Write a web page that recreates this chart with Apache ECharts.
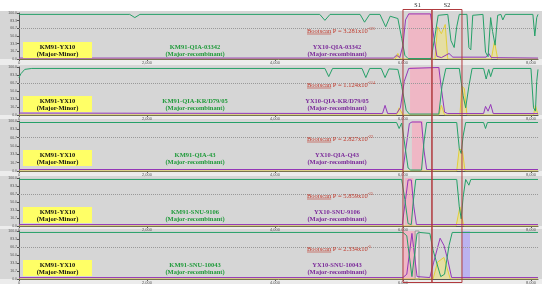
<!DOCTYPE html>
<html>
<head>
<meta charset="utf-8">
<script src="https://cdn.jsdelivr.net/npm/echarts@6/dist/echarts.min.js"></script>
<style>
html,body{margin:0;padding:0;background:#fff;}
#chart{width:542px;height:284px;}
</style>
</head>
<body>
<div id="chart"></div>
<script>
// 各面板文字
var majorMinor = 'KM91-YX10';
var majorRecomb = ['KM91-QIA-03342', 'KM91-QIA-KR/D79/05', 'KM91-QIA-43', 'KM91-SNU-9106', 'KM91-SNU-10043'];
var minorRecomb = ['YX10-QIA-03342', 'YX10-QIA-KR/D79/05', 'YX10-QIA-Q43', 'YX10-SNU-9106', 'YX10-SNU-10043'];
var pMantissa = ['3.281', '1.124', '2.827', '5.859', '2.334'];
var pExponent = ['-121', '-114', '-22', '-15', '-5'];

// 区域 (位点)
var s1Region = [6000, 6453];
var s2Region = [6453, 6922];
var pinkRegions = [[6080, 6450], [6110, 6580], [6140, 6310], [6030, 6160], [6000, 6230]];
var lavenderP5 = [6922, 7047];
var grayBoxP5 = [6190, 6250];

// bootscan 曲线 [位点, %]
var p1Green = [[0,97],[1730,97],[1810,90],[1890,97],[4700,97],[4780,84],[4860,97],[5330,97],[5400,80],[5480,97],[5640,97],[5730,70],[5800,93],[5920,88],[5980,45],[6030,8],[6080,1],[6440,1],[6500,50],[6550,95],[6700,97],[6750,40],[6800,25],[6840,70],[6880,97],[7000,97],[7030,25],[7060,20],[7090,95],[7250,97],[7290,15],[7330,5],[7370,90],[7400,60],[7440,30],[7480,95],[7530,97],[7560,85],[7600,97],[8030,97],[8060,50],[8090,90],[8110,97]];
var p1Purple = [[0,2],[5850,2],[5900,8],[5950,3],[6000,30],[6040,85],[6090,98],[6430,98],[6480,50],[6530,6],[6600,3],[6720,12],[6780,4],[7300,4],[7340,12],[7380,3],[8110,2]];
var p1Yellow = [[0,0],[5880,0],[5920,12],[5960,0],[6500,0],[6540,70],[6600,55],[6660,75],[6700,0],[7380,0],[7430,38],[7480,0],[8110,0]];

var p2Green = [[0,78],[30,86],[90,95],[200,97],[4780,97],[4840,80],[4900,97],[5360,97],[5420,78],[5480,97],[5660,97],[5720,78],[5780,96],[5920,95],[5980,60],[6050,10],[6100,2],[6560,2],[6610,60],[6670,97],[6880,97],[6940,40],[6980,15],[7030,60],[7080,97],[7260,97],[7300,75],[7340,95],[7370,80],[7410,97],[8000,97],[8040,15],[8070,8],[8090,70],[8110,95]];
var p2Purple = [[0,4],[5680,3],[5720,20],[5760,3],[5900,3],[5960,15],[6020,70],[6090,97],[6100,99],[6560,99],[6600,55],[6650,6],[6700,3],[7260,3],[7290,18],[7330,8],[7370,22],[7410,3],[8110,3]];
var p2Yellow = [[0,0],[5900,0],[5940,15],[6000,0],[6560,0],[6600,20],[6650,0],[6890,0],[6920,60],[6960,55],[7000,0],[8040,0],[8070,20],[8110,0]];

var p3Green = [[0,97],[5900,97],[5940,85],[5980,96],[6020,60],[6080,6],[6120,2],[6290,2],[6330,60],[6370,97],[6840,97],[6880,45],[6910,35],[6940,70],[6980,97],[7260,97],[7290,85],[7320,97],[8110,97]];
var p3Purple = [[0,3],[6000,3],[6040,40],[6100,95],[6140,98],[6290,98],[6330,40],[6370,3],[8110,3]];
var p3Yellow = [[0,0],[6840,0],[6880,45],[6930,40],[6970,0],[8110,0]];

var p4Green = [[0,97],[5980,97],[6030,55],[6080,5],[6130,3],[6160,50],[6200,97],[6840,97],[6880,40],[6910,15],[6940,60],[6980,97],[7000,97],[7030,85],[7060,97],[8110,97]];
var p4Purple = [[0,3],[5990,3],[6040,55],[6080,96],[6130,96],[6170,40],[6210,3],[8110,3]];
var p4Yellow = [[0,0],[6830,0],[6890,40],[6950,0],[8110,0]];

var p5Green = [[0,97],[6000,97],[6060,90],[6140,5],[6220,95],[6260,97],[6420,95],[6470,60],[6590,5],[6650,10],[6720,70],[6770,97],[8110,97]];
var p5Purple = [[0,3],[6000,3],[6060,10],[6140,95],[6220,5],[6420,3],[6480,35],[6580,85],[6640,70],[6700,40],[6760,3],[8110,3]];
var p5Yellow = [[0,0],[6470,0],[6540,35],[6640,45],[6740,0],[8110,0]];

var greenData = [p1Green, p2Green, p3Green, p4Green, p5Green];
var purpleData = [p1Purple, p2Purple, p3Purple, p4Purple, p5Purple];
var yellowData = [p1Yellow, p2Yellow, p3Yellow, p4Yellow, p5Yellow];

// 版面
var panelTop = [13, 67, 121, 178, 231];
var panelHeight = [46, 48, 50, 48, 48];
var serif = '"Liberation Serif", "Times New Roman", serif';

var chart = echarts.init(document.getElementById('chart'));
var grids = [], xAxes = [], yAxes = [], series = [];
for (var i = 0; i < 5; i++) {
	grids.push({left: 19, right: 4, top: panelTop[i], height: panelHeight[i], containLabel: false, outerBoundsMode: 'none'});
	xAxes.push({
		type: 'value', gridIndex: i, min: 0, max: 8110, interval: 2000,
		axisLine: {lineStyle: {color: '#555', width: 1}},
		axisTick: {length: 2, lineStyle: {color: '#555'}},
		axisLabel: {fontSize: 4, color: '#555', margin: 2, showMaxLabel: false},
		splitLine: {show: false}
	});
	yAxes.push({
		type: 'value', gridIndex: i, min: 0, max: 100, interval: 100 / 6,
		name: 'Bootstrap(%)', nameLocation: 'middle', nameGap: 11,
		nameTextStyle: {fontSize: 4, color: '#555'},
		axisLine: {show: true, lineStyle: {color: '#555'}},
		axisTick: {show: true, length: 2},
		axisLabel: {fontSize: 3.5, color: '#555', margin: 2, formatter: function (v) { return v.toFixed(1); }},
		splitLine: {show: false}
	});
	series.push({
		type: 'line', xAxisIndex: i, yAxisIndex: i, data: yellowData[i], symbol: 'none', z: 2,
		lineStyle: {color: '#e2cf3a', width: 1},
		areaStyle: {color: 'rgba(245,230,110,0.7)'}
	});
	series.push({
		type: 'line', xAxisIndex: i, yAxisIndex: i, data: purpleData[i], symbol: 'none', z: 4,
		lineStyle: {color: '#9437b8', width: 1}
	});
	series.push({
		type: 'line', xAxisIndex: i, yAxisIndex: i, data: greenData[i], symbol: 'none', z: 5,
		lineStyle: {color: '#25a068', width: 1},
		markLine: {silent: true, symbol: 'none', label: {show: false},
			lineStyle: {color: '#999', type: 'dotted', width: 1}, data: [{yAxis: 66.7}]}
	});
	// 粉色重组区 (覆盖在线上)
	var areas = [[{xAxis: pinkRegions[i][0], itemStyle: {color: 'rgba(250,170,190,0.7)'}}, {xAxis: pinkRegions[i][1]}]];
	if (i == 4) {
		areas.push([{xAxis: lavenderP5[0], itemStyle: {color: 'rgba(180,170,245,0.8)'}}, {xAxis: lavenderP5[1]}]);
		areas.push([{xAxis: grayBoxP5[0], itemStyle: {color: 'rgba(240,225,230,0.85)', borderColor: '#999', borderWidth: 1}}, {xAxis: grayBoxP5[1]}]);
	}
	series.push({
		type: 'line', xAxisIndex: i, yAxisIndex: i, data: [], z: 6,
		markArea: {silent: true, data: areas}
	});
}

chart.setOption({
	animation: false,
	backgroundColor: '#ececec',
	grid: grids,
	xAxis: xAxes,
	yAxis: yAxes,
	series: series
});

// 文字测宽
var ctx = document.createElement('canvas').getContext('2d');
ctx.font = '6.5px ' + serif;
var bootW = ctx.measureText('Bootscan').width;

var els = [];
els.push({type: 'rect', shape: {x: 0, y: 0, width: 542, height: 11}, style: {fill: '#fff'}, z: -10});
for (var i = 0; i < 5; i++) {
	var t = panelTop[i];
	els.push({type: 'rect', shape: {x: 0, y: t - 2, width: 542, height: panelHeight[i] + 2}, style: {fill: '#d6d6d6'}, z: -10});
	els.push({type: 'rect', shape: {x: 23, y: t + 29, width: 69, height: 16}, style: {fill: '#ffff66'}, z: 50});
	els.push({type: 'text', style: {text: majorMinor, x: 57.5, y: t + 34, align: 'center', verticalAlign: 'middle', font: 'bold 6.5px ' + serif, fill: '#111'}, z: 51});
	els.push({type: 'text', style: {text: '(Major-Minor)', x: 57.5, y: t + 41, align: 'center', verticalAlign: 'middle', font: 'bold 6.5px ' + serif, fill: '#111'}, z: 51});
	els.push({type: 'text', style: {text: majorRecomb[i], x: 195, y: t + 34, align: 'center', verticalAlign: 'middle', font: 'bold 6.5px ' + serif, fill: '#1f9a3a'}, z: 51});
	els.push({type: 'text', style: {text: '(Major-recombinant)', x: 195, y: t + 41, align: 'center', verticalAlign: 'middle', font: 'bold 6.5px ' + serif, fill: '#1f9a3a'}, z: 51});
	els.push({type: 'text', style: {text: minorRecomb[i], x: 337, y: t + 34, align: 'center', verticalAlign: 'middle', font: 'bold 6.5px ' + serif, fill: '#7b2a9a'}, z: 51});
	els.push({type: 'text', style: {text: '(Major-recombinant)', x: 337, y: t + 41, align: 'center', verticalAlign: 'middle', font: 'bold 6.5px ' + serif, fill: '#7b2a9a'}, z: 51});
	els.push({type: 'text', style: {
		text: 'Bootscan P = ' + pMantissa[i] + 'x10{s|' + pExponent[i] + '}',
		x: 307, y: t + 18, align: 'left', verticalAlign: 'middle', font: '6.5px ' + serif, fill: '#c0392b', lineHeight: 8,
		rich: {s: {fontSize: 4, fontFamily: serif, fill: '#c0392b', verticalAlign: 'top', lineHeight: 8}}
	}, z: 51});
	els.push({type: 'line', shape: {x1: 307, y1: t + 21, x2: 307 + bootW, y2: t + 21}, style: {stroke: '#c0392b', lineWidth: 0.6}, z: 51});
}

// S1 / S2 框
var xa = chart.convertToPixel({xAxisIndex: 0}, s1Region[0]);
var xb = chart.convertToPixel({xAxisIndex: 0}, s1Region[1]);
var xc = chart.convertToPixel({xAxisIndex: 0}, s2Region[1]);
els.push({type: 'rect', shape: {x: xa, y: 9.5, width: xb - xa, height: 273}, style: {fill: 'none', stroke: '#b03a3e', lineWidth: 1}, z: 60});
els.push({type: 'rect', shape: {x: xb, y: 9.5, width: xc - xb, height: 273}, style: {fill: 'none', stroke: '#b03a3e', lineWidth: 1}, z: 60});
els.push({type: 'text', style: {text: 'S1', x: (xa + xb) / 2, y: 5, align: 'center', verticalAlign: 'middle', font: '6px ' + serif, fill: '#222'}, z: 60});
els.push({type: 'text', style: {text: 'S2', x: (xb + xc) / 2, y: 5, align: 'center', verticalAlign: 'middle', font: '6px ' + serif, fill: '#222'}, z: 60});

chart.setOption({graphic: {elements: els}});
</script>
</body>
</html>
